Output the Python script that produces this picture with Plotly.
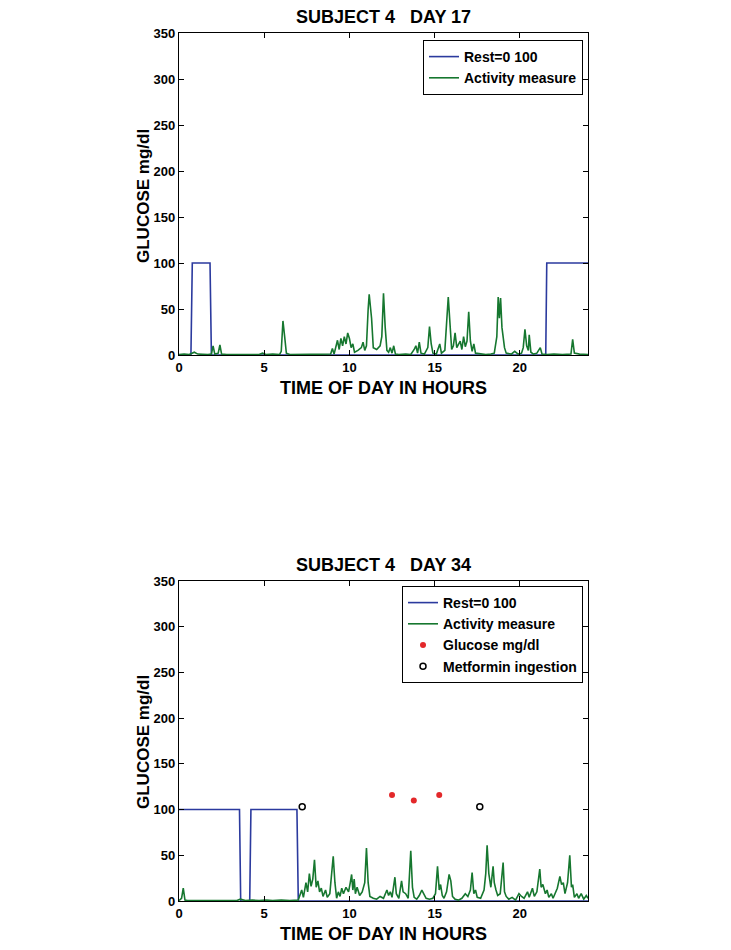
import plotly.graph_objects as go

# ---------------- data ----------------
rest17_h = [0, 0.70, 0.78, 1.82, 1.90, 21.52, 21.58, 24]
rest17_v = [0, 0, 100, 100, 0, 0, 100, 100]

act17_h = [0.0, 0.3, 0.6, 0.9, 1.1, 1.4, 1.7, 1.9, 2.0, 2.1, 2.3, 2.4, 2.5, 2.8, 3.2, 3.6, 4.0, 4.4, 4.7, 4.9,
           5.1, 5.5, 5.9, 6.0, 6.1, 6.2, 6.3, 6.5, 7.0, 7.5, 8.0, 8.5, 8.9, 9.0, 9.1, 9.3, 9.4, 9.5, 9.6, 9.7,
           9.8, 9.9, 10.0, 10.1, 10.2, 10.3, 10.5, 10.7, 10.8, 10.9, 11.0, 11.1, 11.16, 11.3, 11.4, 11.6, 11.8, 11.9, 12.0, 12.1,
           12.2, 12.3, 12.4, 12.5, 12.6, 12.7, 12.9, 13.3, 13.6, 13.8, 13.9, 14.0, 14.1, 14.2, 14.4, 14.6, 14.7, 14.8, 14.9, 15.1,
           15.3, 15.4, 15.6, 15.8, 15.9, 16.0, 16.1, 16.2, 16.3, 16.4, 16.5, 16.6, 16.7, 16.8, 16.9, 17.0, 17.1, 17.2, 17.3, 17.4,
           17.7, 18.0, 18.3, 18.5, 18.65, 18.73, 18.8, 18.87, 18.95, 19.0, 19.1, 19.2, 19.5, 19.7, 19.9, 20.1, 20.2, 20.3, 20.4, 20.5,
           20.55, 20.65, 20.8, 21.0, 21.2, 21.3, 21.6, 22.0, 22.5, 23.0, 23.1, 23.2, 23.5, 24.0]
act17_v = [0.5, 1, 0.5, 3, 1, 0.5, 0.5, 1, 10, 1, 2, 11, 1, 0.5, 0.5, 1, 0.5, 1, 0.5, 2,
           0.5, 1, 0.5, 4, 37, 20, 2, 0.5, 0.5, 1, 0.5, 0.5, 1, 7, 1, 16, 6, 18, 10, 20,
           12, 24, 18, 8, 12, 3, 5, 8, 14, 5, 10, 50, 66, 40, 8, 6, 10, 20, 67, 30,
           5, 3, 8, 2, 10, 1, 0.5, 1, 0.5, 6, 10, 2, 14, 2, 1, 8, 31, 12, 2, 1,
           12, 2, 5, 63, 30, 6, 10, 24, 8, 12, 15, 6, 20, 9, 15, 47, 15, 4, 12, 2,
           1, 0.5, 1, 2, 20, 63, 40, 62, 30, 20, 8, 2, 1, 4, 1, 2, 8, 28, 10, 5,
           22, 3, 1, 2, 8, 1, 0.5, 1, 0.5, 1, 17, 2, 1, 0.5]

rest34_h = [0, 3.55, 3.62, 4.15, 4.22, 6.92, 7.00, 24]
rest34_v = [100, 100, 0, 0, 100, 100, 0, 0]

act34_h = [0.0, 0.15, 0.25, 0.35, 0.5, 1.0, 1.5, 2.0, 2.5, 3.0, 3.4, 3.6, 3.9, 4.3, 4.7, 5.1, 5.5, 6.0, 6.5, 7.0,
           7.2, 7.3, 7.45, 7.55, 7.65, 7.75, 7.85, 7.95, 8.05, 8.15, 8.25, 8.35, 8.45, 8.6, 8.7, 8.85, 9.05, 9.15, 9.25, 9.35,
           9.45, 9.55, 9.65, 9.8, 9.95, 10.05, 10.13, 10.2, 10.28, 10.35, 10.45, 10.6, 10.75, 10.9, 11.0, 11.1, 11.2, 11.4, 11.6, 11.8,
           12.0, 12.2, 12.3, 12.4, 12.5, 12.67, 12.75, 12.9, 13.06, 13.15, 13.3, 13.45, 13.6, 13.7, 13.8, 13.95, 14.1, 14.25, 14.35, 14.5,
           14.7, 14.9, 15.05, 15.17, 15.27, 15.35, 15.45, 15.55, 15.7, 15.85, 15.95, 16.05, 16.2, 16.4, 16.6, 16.8, 16.95, 17.1, 17.2, 17.3,
           17.4, 17.5, 17.7, 17.9, 18.0, 18.08, 18.18, 18.3, 18.43, 18.5, 18.6, 18.7, 18.85, 19.02, 19.1, 19.2, 19.35, 19.55, 19.75, 19.95,
           20.1, 20.25, 20.45, 20.55, 20.74, 20.85, 21.0, 21.17, 21.25, 21.35, 21.5, 21.6, 21.7, 21.85, 21.95, 22.1, 22.2, 22.35, 22.45, 22.55,
           22.65, 22.8, 22.93, 23.03, 23.1, 23.2, 23.35, 23.45, 23.6, 23.75, 23.9, 24.0]
act34_v = [0.5, 3, 14, 1, 0.5, 0.5, 1, 0.5, 0.5, 1, 0.5, 2, 0.5, 1, 0.5, 1, 0.5, 1, 0.5, 1,
           12, 4, 20, 10, 30, 16, 24, 45, 15, 22, 10, 14, 5, 12, 4, 8, 49, 20, 3, 10,
           5, 14, 8, 15, 10, 20, 29, 12, 24, 8, 15, 6, 10, 20, 58, 20, 5, 3, 2, 5,
           3, 12, 6, 10, 4, 26, 8, 3, 22, 10, 8, 3, 55, 15, 4, 2, 6, 12, 8, 3,
           2, 3, 8, 38, 12, 18, 6, 3, 10, 29, 22, 5, 2, 1, 3, 8, 5, 12, 31, 8,
           12, 4, 3, 12, 30, 61, 30, 15, 38, 20, 12, 6, 8, 42, 10, 5, 2, 4, 1, 8,
           5, 3, 10, 4, 14, 5, 10, 35, 15, 18, 8, 12, 4, 8, 3, 10, 14, 27, 18, 20,
           8, 20, 50, 15, 18, 4, 8, 3, 8, 2, 6, 3]

gluc34_h = [12.5, 13.78, 15.27]
gluc34_v = [116, 110, 116]
metf34_h = [7.23, 17.65]
metf34_v = [103, 103]

x_ticks = [0, 5, 10, 15, 20]
y_ticks = [0, 50, 100, 150, 200, 250, 300, 350]
titles = ["SUBJECT 4\u00a0\u00a0\u00a0DAY 17", "SUBJECT 4\u00a0\u00a0\u00a0DAY 34"]

# ---------------- figure ----------------
W, H = 731, 950
BLUE = "#2b3a9e"
GREEN = "#16772f"
RED = "#e3282a"
FONT = "Liberation Sans, Arial, sans-serif"

fig = go.Figure()

fig.add_trace(go.Scatter(x=rest17_h, y=rest17_v, mode="lines", name="Rest=0 100",
                         line=dict(color=BLUE, width=1.6), xaxis="x", yaxis="y", legend="legend"))
fig.add_trace(go.Scatter(x=act17_h, y=act17_v, mode="lines", name="Activity measure",
                         line=dict(color=GREEN, width=1.6), xaxis="x", yaxis="y", legend="legend"))

fig.add_trace(go.Scatter(x=rest34_h, y=rest34_v, mode="lines", name="Rest=0 100",
                         line=dict(color=BLUE, width=1.6), xaxis="x2", yaxis="y2", legend="legend2"))
fig.add_trace(go.Scatter(x=act34_h, y=act34_v, mode="lines", name="Activity measure",
                         line=dict(color=GREEN, width=1.6), xaxis="x2", yaxis="y2", legend="legend2"))
fig.add_trace(go.Scatter(x=gluc34_h, y=gluc34_v, mode="markers", name="Glucose mg/dl",
                         marker=dict(color=RED, size=6), xaxis="x2", yaxis="y2", legend="legend2"))
fig.add_trace(go.Scatter(x=metf34_h, y=metf34_v, mode="markers", name="Metformin ingestion",
                         marker=dict(color="rgba(0,0,0,0)", size=6, line=dict(color="black", width=1.5)),
                         xaxis="x2", yaxis="y2", legend="legend2"))

xdom = [179 / W, 588 / W]
y1dom = [1 - 355 / H, 1 - 33 / H]
y2dom = [1 - 901 / H, 1 - 581 / H]

tickfont = dict(family=FONT, size=13, color="black", weight="bold")
axcommon = dict(showline=True, linecolor="black", linewidth=1.2, mirror="ticks",
                ticks="inside", ticklen=5, tickcolor="black", showgrid=False, zeroline=False,
                tickfont=tickfont, automargin=False)

legfont = dict(family=FONT, size=14, color="black", weight="bold")
fig.update_layout(
    width=W, height=H, margin=dict(l=0, r=0, t=0, b=0, autoexpand=False),
    paper_bgcolor="white", plot_bgcolor="white",
    font=dict(family=FONT, color="black"),
    xaxis=dict(domain=xdom, range=[0, 24], tickvals=x_ticks, anchor="y", **axcommon),
    yaxis=dict(domain=y1dom, range=[0, 350], tickvals=y_ticks, anchor="x", **axcommon),
    xaxis2=dict(domain=xdom, range=[0, 24], tickvals=x_ticks, anchor="y2", **axcommon),
    yaxis2=dict(domain=y2dom, range=[0, 350], tickvals=y_ticks, anchor="x2", **axcommon),
    legend=dict(x=583 / W, y=1 - 40 / H, xanchor="right", yanchor="top",
                bgcolor="white", bordercolor="black", borderwidth=1,
                font=legfont, tracegroupgap=0),
    legend2=dict(x=583 / W, y=1 - 586 / H, xanchor="right", yanchor="top",
                 bgcolor="white", bordercolor="black", borderwidth=1,
                 font=legfont, tracegroupgap=0),
)

anns = []
for t, ty, xy, ly in [(titles[0], 17, 388, 196), (titles[1], 565, 934, 742)]:
    anns.append(dict(text=t, x=383.5 / W, y=1 - ty / H, xref="paper", yref="paper",
                     showarrow=False, xanchor="center", yanchor="middle",
                     font=dict(family=FONT, size=18, color="black", weight="bold")))
    anns.append(dict(text="TIME OF DAY IN HOURS", x=383.5 / W, y=1 - xy / H, xref="paper", yref="paper",
                     showarrow=False, xanchor="center", yanchor="middle",
                     font=dict(family=FONT, size=18, color="black", weight="bold")))
    anns.append(dict(text="GLUCOSE mg/dl", x=143 / W, y=1 - ly / H, xref="paper", yref="paper",
                     showarrow=False, xanchor="center", yanchor="middle", textangle=-90,
                     font=dict(family=FONT, size=17, color="black", weight="bold")))
fig.update_layout(annotations=anns)

fig.write_html("out.html", config={"displayModeBar": False},
               post_script="document.body.style.margin='0px';document.body.style.overflow='hidden';")
